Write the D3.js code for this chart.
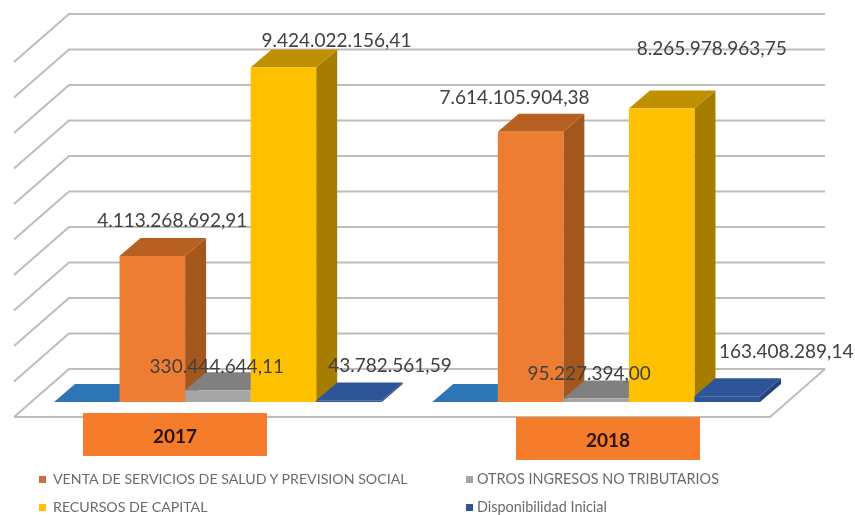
<!DOCTYPE html>
<html><head><meta charset="utf-8">
<script src="https://cdn.jsdelivr.net/npm/d3@7/dist/d3.min.js"></script>
<style>html,body{margin:0;padding:0;background:#fff}svg{display:block}text{font-family:Lato,"Open Sans",sans-serif}</style>
</head><body><div id="chart"></div>
<script>
// ---- data ----
const years = ["2017", "2018"];
const seriesKeys = ["base", "venta", "otros", "recursos", "disponibilidad"];
const base = [0, 0];
const venta = [4113268692.91, 7614105904.38];
const otros = [330444644.11, 95227394.00];
const recursos = [9424022156.41, 8265978963.75];
const disponibilidad = [43782561.59, 163408289.14];
const valueLabels = [
  [null, "4.113.268.692,91", "330.444.644,11", "9.424.022.156,41", "43.782.561,59"],
  [null, "7.614.105.904,38", "95.227.394,00", "8.265.978.963,75", "163.408.289,14"]
];
const legendLabels = ["VENTA DE SERVICIOS DE SALUD Y PREVISION SOCIAL", "OTROS INGRESOS NO TRIBUTARIOS", "RECURSOS DE CAPITAL", "Disponibilidad Inicial"];
const gridTicks = [0,1,2,3,4,5,6,7,8,9,10].map(d => d * 1e9);

// ---- style / layout ----
const W = 855, H = 515;
const palette = {
  base: {front:"#2e75b6", side:"#255e92", top:"#2e75b6"},
  venta: {front:"#ed7d31", side:"#a5561f", top:"#b85f22"},
  otros: {front:"#a5a5a5", side:"#7c7c7c", top:"#808080"},
  recursos: {front:"#ffc000", side:"#a67d00", top:"#bf9000"},
  disponibilidad: {front:"#2f5597", side:"#24427a", top:"#2f5597"}
};
const seriesData = {base, venta, otros, recursos, disponibilidad};
const dx = 21, dy = 18;            // bar depth
const floorDx = 55, floorDy = 48;  // wall/floor depth
const labelPos = [ // offset of label centre from bar's front-top-centre
  [null, [20,-34], [-1,-22], [53,-25], [41,-33]],
  [null, [-16,-33], [-7,-23], [50,-58], [59,-43]]
];

const svg = d3.select("#chart").append("svg").attr("width", W).attr("height", H);
const defs = svg.append("defs");
defs.append("filter").attr("id","soft").attr("x","-2%").attr("y","-2%").attr("width","104%").attr("height","104%")
  .append("feGaussianBlur").attr("stdDeviation",0.55);
const root = svg.append("g").attr("filter","url(#soft)");

const y = d3.scaleLinear().domain([0, 1e10]).range([402, 47]);
const xGroup = d3.scaleBand().domain(years).range([54, 760]).paddingInner(0.1336);
const xSeries = d3.scaleBand().domain(seriesKeys).range([0, xGroup.bandwidth()]);

// walls
const backY = v => y(v) - (402 - 369) ;
const gridG = root.append("g").attr("fill","none").attr("stroke","#bdbdbd").attr("stroke-width",2);
gridTicks.forEach(t => {
  const by = backY(t);
  gridG.append("path").attr("d", d3.line()([[14, by + floorDy],[69, by],[825, by]]));
});
gridG.append("path").attr("d", d3.line()([[14,369+floorDy],[770,369+floorDy],[825,369]]));

// bars
const poly = pts => d3.line()(pts) + "Z";
years.forEach((yr, gi) => {
  const g = root.append("g");
  seriesKeys.forEach(k => {
    const v = seriesData[k][gi];
    const x0 = xGroup(yr) + xSeries(k), x1 = x0 + xSeries.bandwidth();
    const yt = y(v), yb = y(0), c = palette[k];
    g.append("path").attr("fill", c.side).attr("d", poly([[x1,yt],[x1+dx,yt-dy],[x1+dx,yb-dy],[x1,yb]]));
    g.append("path").attr("fill", c.top).attr("d", poly([[x0,yt],[x1,yt],[x1+dx,yt-dy],[x0+dx,yt-dy]]));
    g.append("rect").attr("x",x0).attr("y",yt).attr("width",x1-x0).attr("height",Math.max(0,yb-yt)).attr("fill",c.front);
  });
});

// value labels
years.forEach((yr, gi) => {
  seriesKeys.forEach((k, si) => {
    const txt = valueLabels[gi][si];
    if (!txt) return;
    const o = labelPos[gi][si];
    const cx = xGroup(yr) + xSeries(k) + xSeries.bandwidth()/2 + o[0];
    root.append("text").attr("x",cx).attr("y",y(seriesData[k][gi]) + o[1])
      .attr("text-anchor","middle").attr("dominant-baseline","middle")
      .attr("font-size",19).attr("fill","#404040").text(txt);
  });
});

// category boxes
const boxes = [[83,413],[516,417]];
years.forEach((yr,i) => {
  const [bx,by] = boxes[i];
  root.append("rect").attr("x",bx).attr("y",by).attr("width",184).attr("height",43).attr("fill","#f47b2b");
  root.append("text").attr("x",bx+92).attr("y",by+25).attr("text-anchor","middle").attr("dominant-baseline","middle")
    .attr("font-size",19).attr("font-weight",700).attr("fill","#2a1408").text(yr);
});

// legend
const legendPos = [[39,480],[466,480],[39,508],[466,508]];
const legendCol = ["#c9703a","#a5a5a5","#ffc000","#2f5597"];
legendLabels.forEach((t,i) => {
  const [lx,ly] = legendPos[i];
  root.append("rect").attr("x",lx).attr("y",ly-4).attr("width",7).attr("height",7).attr("fill",legendCol[i]);
  root.append("text").attr("x",lx+(i%2?11:14)).attr("y",ly).attr("dominant-baseline","middle")
    .attr("font-size",i%2?14.4:14.2).attr("fill","#6b6b6b").text(t);
});
</script></body></html>
